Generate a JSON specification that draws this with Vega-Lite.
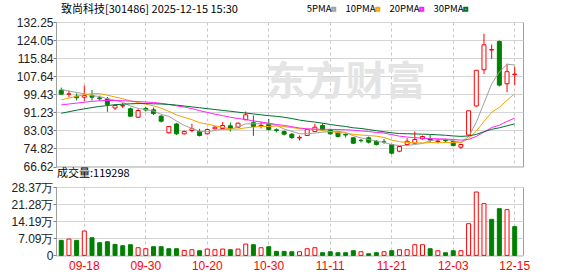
{
  "$schema": "https://vega.github.io/schema/vega-lite/v6.json",
  "background": "#ffffff",
  "padding": {"left": 10, "top": 3, "right": 5, "bottom": 2},
  "bounds": "flush",
  "spacing": 20,
  "data": {"values": [
    {"d":"09-15","o":101.27,"h":102.5,"l":99.2,"c":99.46,"kc":"g","v":6.23,"vc":"g","5PMA":101.6,"10PMA":96.9,"20PMA":94.6,"30PMA":90.8},
    {"d":"09-16","o":99.45,"h":101.1,"l":98.1,"c":99.6,"kc":"r","v":6.78,"vc":"r","5PMA":100.9,"10PMA":97.7,"20PMA":95.0,"30PMA":91.5},
    {"d":"09-17","o":98.55,"h":99.8,"l":96.6,"c":97.85,"kc":"g","v":6.23,"vc":"g","5PMA":100.2,"10PMA":98.5,"20PMA":95.4,"30PMA":92.2},
    {"d":"09-18","o":98.1,"h":103.4,"l":96.4,"c":98.87,"kc":"r","v":10.1,"vc":"r","5PMA":99.7,"10PMA":99.2,"20PMA":95.8,"30PMA":92.8},
    {"d":"09-19","o":98.87,"h":101.4,"l":96.6,"c":98.1,"kc":"g","v":7.33,"vc":"g","5PMA":98.8,"10PMA":99.7,"20PMA":96.2,"30PMA":93.4},
    {"d":"09-22","o":97.8,"h":98.8,"l":96.6,"c":97.4,"kc":"g","v":5.26,"vc":"g","5PMA":98.4,"10PMA":99.7,"20PMA":96.5,"30PMA":93.9},
    {"d":"09-23","o":97.3,"h":98.2,"l":91.45,"c":94.8,"kc":"g","v":5.67,"vc":"g","5PMA":97.4,"10PMA":99.0,"20PMA":96.6,"30PMA":94.3},
    {"d":"09-24","o":93.19,"h":94.8,"l":92.28,"c":94.33,"kc":"r","v":4.57,"vc":"g","5PMA":96.7,"10PMA":98.2,"20PMA":96.6,"30PMA":94.7},
    {"d":"09-25","o":94.1,"h":95.46,"l":93.19,"c":94.3,"kc":"r","v":4.01,"vc":"g","5PMA":95.8,"10PMA":97.4,"20PMA":96.5,"30PMA":94.9},
    {"d":"09-26","o":92.83,"h":93.4,"l":89.3,"c":89.46,"kc":"g","v":4.43,"vc":"g","5PMA":94.1,"10PMA":96.4,"20PMA":96.3,"30PMA":95.1},
    {"d":"09-29","o":89.01,"h":92.7,"l":88.65,"c":92.05,"kc":"r","v":3.18,"vc":"r","5PMA":93.0,"10PMA":95.7,"20PMA":96.1,"30PMA":95.2},
    {"d":"09-30","o":92.96,"h":93.65,"l":91.6,"c":92.28,"kc":"g","v":2.77,"vc":"r","5PMA":92.5,"10PMA":94.9,"20PMA":95.9,"30PMA":95.2},
    {"d":"10-09","o":92.37,"h":93.4,"l":90.0,"c":90.69,"kc":"g","v":3.6,"vc":"g","5PMA":91.8,"10PMA":94.2,"20PMA":95.7,"30PMA":95.1},
    {"d":"10-10","o":89.46,"h":90.0,"l":86.6,"c":87.19,"kc":"g","v":3.6,"vc":"g","5PMA":90.3,"10PMA":93.1,"20PMA":95.3,"30PMA":95.0},
    {"d":"10-13","o":81.93,"h":85.0,"l":81.6,"c":84.79,"kc":"r","v":2.77,"vc":"g","5PMA":89.4,"10PMA":91.7,"20PMA":94.8,"30PMA":94.8},
    {"d":"10-14","o":85.92,"h":86.4,"l":80.9,"c":81.47,"kc":"g","v":2.77,"vc":"g","5PMA":87.3,"10PMA":90.1,"20PMA":94.2,"30PMA":94.5},
    {"d":"10-15","o":81.47,"h":82.97,"l":81.15,"c":82.5,"kc":"r","v":2.08,"vc":"r","5PMA":85.3,"10PMA":88.9,"20PMA":93.6,"30PMA":94.1},
    {"d":"10-16","o":82.97,"h":86.01,"l":82.2,"c":83.74,"kc":"r","v":2.35,"vc":"r","5PMA":83.9,"10PMA":87.9,"20PMA":92.9,"30PMA":93.7},
    {"d":"10-17","o":82.5,"h":83.74,"l":80.24,"c":80.7,"kc":"g","v":1.94,"vc":"g","5PMA":82.6,"10PMA":86.5,"20PMA":92.0,"30PMA":93.3},
    {"d":"10-20","o":81.47,"h":83.88,"l":81.15,"c":83.42,"kc":"r","v":2.63,"vc":"r","5PMA":82.4,"10PMA":85.9,"20PMA":91.2,"30PMA":92.9},
    {"d":"10-21","o":83.74,"h":85.0,"l":83.42,"c":84.47,"kc":"r","v":2.35,"vc":"r","5PMA":83.0,"10PMA":85.1,"20PMA":90.4,"30PMA":92.5},
    {"d":"10-22","o":83.88,"h":86.83,"l":83.65,"c":85.24,"kc":"r","v":2.63,"vc":"r","5PMA":83.5,"10PMA":84.4,"20PMA":89.7,"30PMA":92.1},
    {"d":"10-23","o":85.1,"h":86.6,"l":82.5,"c":83.74,"kc":"g","v":2.35,"vc":"g","5PMA":83.5,"10PMA":83.7,"20PMA":89.0,"30PMA":91.7},
    {"d":"10-24","o":84.47,"h":86.6,"l":84.1,"c":86.29,"kc":"r","v":2.63,"vc":"r","5PMA":84.6,"10PMA":83.6,"20PMA":88.4,"30PMA":91.3},
    {"d":"10-27","o":87.83,"h":91.6,"l":87.74,"c":90.1,"kc":"r","v":4.7,"vc":"r","5PMA":86.0,"10PMA":84.2,"20PMA":88.0,"30PMA":90.9},
    {"d":"10-28","o":86.5,"h":89.8,"l":80.5,"c":84.8,"kc":"g","v":4.43,"vc":"g","5PMA":86.0,"10PMA":84.5,"20PMA":87.3,"30PMA":90.5},
    {"d":"10-29","o":85.0,"h":87.0,"l":83.9,"c":85.3,"kc":"r","v":3.18,"vc":"r","5PMA":86.1,"10PMA":84.8,"20PMA":86.8,"30PMA":90.1},
    {"d":"10-30","o":85.9,"h":88.2,"l":83.0,"c":83.4,"kc":"g","v":3.6,"vc":"g","5PMA":86.0,"10PMA":84.8,"20PMA":86.3,"30PMA":89.7},
    {"d":"10-31","o":83.3,"h":83.9,"l":82.1,"c":83.0,"kc":"g","v":1.66,"vc":"g","5PMA":85.3,"10PMA":85.0,"20PMA":85.7,"30PMA":89.4},
    {"d":"11-03","o":82.5,"h":83.0,"l":80.7,"c":81.3,"kc":"g","v":1.66,"vc":"g","5PMA":83.6,"10PMA":84.8,"20PMA":85.3,"30PMA":89.0},
    {"d":"11-04","o":81.3,"h":81.8,"l":79.1,"c":79.8,"kc":"g","v":1.52,"vc":"g","5PMA":82.6,"10PMA":84.3,"20PMA":84.7,"30PMA":88.4},
    {"d":"11-05","o":79.56,"h":80.7,"l":78.4,"c":79.85,"kc":"r","v":1.52,"vc":"r","5PMA":81.5,"10PMA":83.8,"20PMA":84.1,"30PMA":87.7},
    {"d":"11-06","o":80.7,"h":83.65,"l":80.47,"c":83.4,"kc":"r","v":2.77,"vc":"r","5PMA":81.5,"10PMA":83.7,"20PMA":83.7,"30PMA":87.2},
    {"d":"11-07","o":82.5,"h":86.0,"l":82.29,"c":84.47,"kc":"r","v":3.18,"vc":"r","5PMA":81.8,"10PMA":83.5,"20PMA":83.6,"30PMA":86.8},
    {"d":"11-10","o":85.24,"h":86.29,"l":82.97,"c":83.29,"kc":"g","v":1.11,"vc":"g","5PMA":82.2,"10PMA":82.9,"20PMA":83.5,"30PMA":86.3},
    {"d":"11-11","o":83.29,"h":83.74,"l":81.0,"c":81.47,"kc":"g","v":1.52,"vc":"g","5PMA":82.5,"10PMA":82.5,"20PMA":83.5,"30PMA":85.7},
    {"d":"11-12","o":82.2,"h":82.74,"l":79.79,"c":80.24,"kc":"g","v":1.11,"vc":"g","5PMA":82.6,"10PMA":82.0,"20PMA":83.4,"30PMA":85.2},
    {"d":"11-13","o":81.15,"h":81.61,"l":79.79,"c":80.93,"kc":"g","v":1.11,"vc":"g","5PMA":82.1,"10PMA":81.8,"20PMA":83.3,"30PMA":84.8},
    {"d":"11-14","o":79.65,"h":79.93,"l":76.93,"c":77.2,"kc":"g","v":1.94,"vc":"g","5PMA":80.6,"10PMA":81.2,"20PMA":83.1,"30PMA":84.2},
    {"d":"11-17","o":78.5,"h":79.11,"l":77.52,"c":78.34,"kc":"g","v":1.52,"vc":"r","5PMA":79.6,"10PMA":80.9,"20PMA":82.8,"30PMA":83.9},
    {"d":"11-18","o":79.65,"h":80.24,"l":77.06,"c":77.66,"kc":"g","v":0.69,"vc":"g","5PMA":78.9,"10PMA":80.7,"20PMA":82.5,"30PMA":83.4},
    {"d":"11-19","o":78.11,"h":78.66,"l":76.16,"c":76.61,"kc":"g","v":1.11,"vc":"g","5PMA":78.2,"10PMA":80.4,"20PMA":82.1,"30PMA":82.9},
    {"d":"11-20","o":77.8,"h":79.2,"l":76.93,"c":77.7,"kc":"g","v":1.52,"vc":"r","5PMA":77.5,"10PMA":79.8,"20PMA":81.8,"30PMA":82.4},
    {"d":"11-21","o":76.61,"h":76.93,"l":72.07,"c":72.66,"kc":"g","v":1.94,"vc":"g","5PMA":76.6,"10PMA":78.6,"20PMA":81.1,"30PMA":81.9},
    {"d":"11-24","o":73.57,"h":75.93,"l":73.11,"c":75.7,"kc":"r","v":2.35,"vc":"r","5PMA":76.1,"10PMA":77.9,"20PMA":80.4,"30PMA":81.6},
    {"d":"11-25","o":76.61,"h":79.47,"l":76.38,"c":78.11,"kc":"r","v":2.35,"vc":"r","5PMA":76.2,"10PMA":77.5,"20PMA":80.0,"30PMA":81.5},
    {"d":"11-26","o":77.2,"h":82.52,"l":77.06,"c":78.88,"kc":"r","v":4.43,"vc":"r","5PMA":76.6,"10PMA":77.4,"20PMA":79.7,"30PMA":81.4},
    {"d":"11-27","o":79.2,"h":80.7,"l":78.88,"c":80.24,"kc":"r","v":4.43,"vc":"r","5PMA":77.1,"10PMA":77.3,"20PMA":79.5,"30PMA":81.3},
    {"d":"11-28","o":79.11,"h":81.15,"l":77.66,"c":78.66,"kc":"g","v":2.77,"vc":"g","5PMA":78.3,"10PMA":77.5,"20PMA":79.3,"30PMA":81.2},
    {"d":"12-01","o":78.0,"h":79.2,"l":77.2,"c":78.2,"kc":"r","v":1.94,"vc":"r","5PMA":78.8,"10PMA":77.4,"20PMA":79.2,"30PMA":81.0},
    {"d":"12-02","o":78.45,"h":79.2,"l":77.66,"c":78.3,"kc":"g","v":1.11,"vc":"g","5PMA":78.9,"10PMA":77.5,"20PMA":79.1,"30PMA":80.8},
    {"d":"12-03","o":77.97,"h":78.43,"l":75.7,"c":76.16,"kc":"g","v":1.94,"vc":"g","5PMA":78.3,"10PMA":77.5,"20PMA":78.9,"30PMA":80.5},
    {"d":"12-04","o":75.38,"h":76.93,"l":74.66,"c":76.61,"kc":"r","v":1.94,"vc":"r","5PMA":77.6,"10PMA":77.4,"20PMA":78.6,"30PMA":80.3},
    {"d":"12-05","o":80.9,"h":91.93,"l":80.2,"c":91.93,"kc":"r","v":13.15,"vc":"r","5PMA":80.2,"10PMA":79.3,"20PMA":78.9,"30PMA":80.5},
    {"d":"12-08","o":94.1,"h":110.32,"l":93.8,"c":110.32,"kc":"r","v":26.29,"vc":"r","5PMA":86.7,"10PMA":82.7,"20PMA":80.3,"30PMA":81.2},
    {"d":"12-09","o":110.54,"h":126.9,"l":108.7,"c":121.9,"kc":"r","v":21.45,"vc":"r","5PMA":95.4,"10PMA":87.1,"20PMA":82.3,"30PMA":82.4},
    {"d":"12-10","o":119.5,"h":122.03,"l":115.54,"c":119.76,"kc":"r","v":14.95,"vc":"g","5PMA":104.1,"10PMA":91.2,"20PMA":84.3,"30PMA":83.5},
    {"d":"12-11","o":123.4,"h":123.85,"l":102.96,"c":103.6,"kc":"g","v":19.37,"vc":"g","5PMA":109.5,"10PMA":93.5,"20PMA":85.4,"30PMA":84.2},
    {"d":"12-12","o":104.18,"h":113.26,"l":100.37,"c":109.68,"kc":"r","v":18.96,"vc":"r","5PMA":113.1,"10PMA":96.7,"20PMA":87.1,"30PMA":85.1},
    {"d":"12-15","o":108.35,"h":111.9,"l":103.6,"c":108.6,"kc":"r","v":11.93,"vc":"g","5PMA":112.7,"10PMA":99.7,"20PMA":88.6,"30PMA":86.0}
  ]},
  "config": {
    "view": {"stroke": "#a0a0a0", "strokeWidth": 1},
    "axis": {"labelFont": "Liberation Sans", "labelFontSize": 12, "labelColor": "#222222", "title": null, "gridColor": "#d4d4d4", "gridWidth": 1, "tickColor": "#808080", "tickSize": 3, "labelPadding": 0, "domain": false, "labelFlush": false, "labelOverlap": false},
    "legend": {"orient": "none", "legendX": 273, "legendY": -18, "direction": "horizontal", "title": null, "symbolType": "square", "symbolSize": 9, "symbolStrokeWidth": 2, "labelFont": "Noto Sans CJK SC", "labelFontSize": 9.5, "labelColor": "#000000", "columnPadding": 5, "labelAlign": "right", "labelOffset": -7}
  },
  "vconcat": [
    {
      "width": 467,
      "height": 144.5,
      "title": {"text": "致尚科技[301486] 2025-12-15 15:30", "anchor": "start", "frame": "group", "font": "Noto Sans CJK SC", "fontSize": 11, "fontWeight": "normal", "color": "#000000", "offset": 1, "dx": 5},
      "layer": [
        {
          "data": {"values": [{"wm": "东方财富"}]},
          "mark": {"type": "text", "fontSize": 40, "fontWeight": "bold", "font": "Noto Sans CJK SC", "color": "#e4e4e4", "align": "center", "baseline": "middle"},
          "encoding": {
            "x": {"datum": "11-13", "type": "ordinal", "scale": {"paddingInner": 0, "paddingOuter": 0.38, "align": 0.24}, "axis": {"values": ["09-18","09-30","10-20","10-30","11-11","11-21","12-03","12-15"], "labels": false, "ticks": false, "domain": false, "grid": true, "gridDash": [3,3], "gridColor": "#c8c8c8", "bandPosition": 0.5, "title": null}},
            "y": {"datum": 104.5, "type": "quantitative", "scale": {"domain": [66.62, 132.25], "nice": false, "zero": false}, "axis": {"values": [66.62,74.82,83.03,91.23,99.43,107.64,115.84,124.05,132.25], "format": ".2f", "grid": true, "title": null}},
            "text": {"field": "wm"}
          }
        },
        {
          "mark": {"type": "rule", "strokeWidth": 1},
          "encoding": {
            "x": {"field": "d", "type": "ordinal", "scale": {"paddingInner": 0, "paddingOuter": 0.38, "align": 0.24}, "axis": {"values": ["09-18","09-30","10-20","10-30","11-11","11-21","12-03","12-15"], "labels": false, "ticks": false, "domain": false, "grid": true, "gridDash": [3,3], "gridColor": "#c8c8c8", "bandPosition": 0.5, "title": null}},
            "y": {"field": "l", "type": "quantitative", "scale": {"domain": [66.62, 132.25], "nice": false, "zero": false}, "axis": {"values": [66.62,74.82,83.03,91.23,99.43,107.64,115.84,124.05,132.25], "format": ".2f", "grid": true, "title": null}},
            "y2": {"field": "h"},
            "stroke": {"field": "kc", "type": "nominal", "scale": {"domain": ["r","g"], "range": ["#ff0000","#008000"]}, "legend": null}
          }
        },
        {
          "mark": {"type": "bar", "size": 4, "strokeWidth": 1},
          "encoding": {
            "x": {"field": "d", "type": "ordinal", "scale": {"paddingInner": 0, "paddingOuter": 0.38, "align": 0.24}, "axis": {"values": ["09-18","09-30","10-20","10-30","11-11","11-21","12-03","12-15"], "labels": false, "ticks": false, "domain": false, "grid": true, "gridDash": [3,3], "gridColor": "#c8c8c8", "bandPosition": 0.5, "title": null}},
            "y": {"field": "o", "type": "quantitative", "scale": {"domain": [66.62, 132.25], "nice": false, "zero": false}, "axis": {"values": [66.62,74.82,83.03,91.23,99.43,107.64,115.84,124.05,132.25], "format": ".2f", "grid": true, "title": null}},
            "y2": {"field": "c"},
            "fill": {"field": "kc", "type": "nominal", "scale": {"domain": ["r","g"], "range": ["#ffffff","#008000"]}, "legend": null},
            "stroke": {"field": "kc", "type": "nominal", "scale": {"domain": ["r","g"], "range": ["#ff0000","#008000"]}, "legend": null}
          }
        },
        {
          "transform": [{"fold": ["5PMA","10PMA","20PMA","30PMA"], "as": ["ma","val"]}],
          "mark": {"type": "line", "strokeWidth": 1},
          "encoding": {
            "x": {"field": "d", "type": "ordinal", "scale": {"paddingInner": 0, "paddingOuter": 0.38, "align": 0.24}, "axis": {"values": ["09-18","09-30","10-20","10-30","11-11","11-21","12-03","12-15"], "labels": false, "ticks": false, "domain": false, "grid": true, "gridDash": [3,3], "gridColor": "#c8c8c8", "bandPosition": 0.5, "title": null}},
            "y": {"field": "val", "type": "quantitative", "scale": {"domain": [66.62, 132.25], "nice": false, "zero": false}, "axis": {"values": [66.62,74.82,83.03,91.23,99.43,107.64,115.84,124.05,132.25], "format": ".2f", "grid": true, "title": null}},
            "color": {"field": "ma", "type": "nominal", "scale": {"domain": ["5PMA","10PMA","20PMA","30PMA"], "range": ["#a0a0a0","#f5a300","#ff22ff","#00702f"]}, "legend": {}}
          }
        }
      ]
    },
    {
      "width": 467,
      "height": 68.4,
      "title": {"text": "成交量:119298", "anchor": "start", "frame": "group", "font": "Noto Sans CJK SC", "fontSize": 11, "fontWeight": "normal", "color": "#000000", "offset": 2, "dx": 1},
      "mark": {"type": "bar", "size": 4, "strokeWidth": 1},
      "encoding": {
        "x": {"field": "d", "type": "ordinal", "scale": {"paddingInner": 0, "paddingOuter": 0.38, "align": 0.24}, "axis": {"values": ["09-18","09-30","10-20","10-30","11-11","11-21","12-03","12-15"], "labelColor": "#ff0000", "labelAngle": 0, "labelPadding": 5, "ticks": false, "domain": false, "grid": true, "gridDash": [3,3], "gridColor": "#c8c8c8", "bandPosition": 0.5, "title": null}},
        "y": {"field": "v", "type": "quantitative", "scale": {"domain": [0, 28.37], "nice": false}, "axis": {"values": [0,7.09,14.19,21.28,28.37], "labelExpr": "datum.value == 0 ? '0' : format(datum.value, '.2f') + '万'", "grid": true, "title": null}},
        "fill": {"field": "vc", "type": "nominal", "scale": {"domain": ["r","g"], "range": ["#ffffff","#008000"]}, "legend": null},
        "stroke": {"field": "vc", "type": "nominal", "scale": {"domain": ["r","g"], "range": ["#ff0000","#008000"]}, "legend": null}
      }
    }
  ]
}
